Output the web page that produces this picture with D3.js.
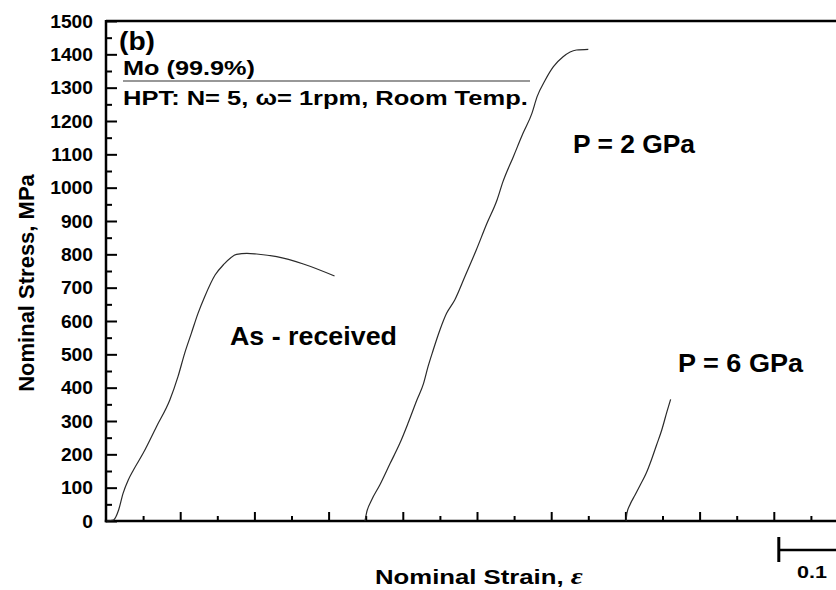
<!DOCTYPE html>
<html>
<head>
<meta charset="utf-8">
<script src="https://cdn.jsdelivr.net/npm/d3@7/dist/d3.min.js"></script>
<style>
  html, body { margin: 0; padding: 0; background: #fff; }
  svg { display: block; }
  text { font-family: "Liberation Sans", Arial, sans-serif; font-weight: bold; fill: #000; }
</style>
</head>
<body>
<svg id="chart" width="836" height="590"></svg>
<script>
// Engineering stress–strain curves of HPT-processed Mo (99.9%); stress in MPa.
// Curves are offset along the strain axis for clarity (scale bar = 0.1 strain).
const asReceivedStrain = [0.001, 0.010, 0.017, 0.023, 0.030, 0.037, 0.050, 0.068, 0.086, 0.097, 0.106, 0.115, 0.124, 0.133, 0.147, 0.158, 0.176, 0.190, 0.203, 0.230, 0.266, 0.308];
const asReceivedStress = [0, 3, 33, 83, 123, 153, 203, 283, 363, 433, 503, 563, 623, 673, 738, 768, 800, 803, 801, 793, 771, 735];

const p2Strain = [0.349, 0.351, 0.358, 0.369, 0.383, 0.396, 0.407, 0.419, 0.428, 0.434, 0.441, 0.450, 0.459, 0.470, 0.484, 0.499, 0.513, 0.527, 0.535, 0.549, 0.562, 0.574, 0.581, 0.592, 0.603, 0.616, 0.634, 0.650];
const p2Stress = [0, 23, 63, 108, 173, 233, 293, 363, 413, 463, 513, 573, 623, 663, 735, 813, 891, 963, 1018, 1093, 1163, 1223, 1273, 1323, 1363, 1393, 1413, 1415];

const p6Strain = [0.701, 0.702, 0.706, 0.713, 0.720, 0.728, 0.735, 0.742, 0.749, 0.756, 0.761];
const p6Stress = [0, 23, 48, 78, 108, 143, 183, 228, 273, 328, 365];

const yTickValues = d3.range(0, 1501, 100);
const yMinorValues = d3.range(50, 1500, 100);
const xMajorValues = d3.range(0.1, 1.01, 0.1);
const xMinorValues = d3.range(0.05, 1.0, 0.1);
const scaleBarLength = 0.1;

const svg = d3.select("#chart");
const plotLeft = 106, plotTop = 21, plotBottom = 521, plotRight = 848;

const x = d3.scaleLinear().domain([0, 1.0]).range([plotLeft, plotRight]);
const y = d3.scaleLinear().domain([0, 1500]).range([plotBottom, plotTop]);

// text placed at (px, py) and stretched horizontally to span `width` pixels
function fitText(txt, px, py, size, width) {
  const t = svg.append("text").style("font-size", size + "px").text(txt);
  const natural = t.node().getComputedTextLength();
  t.attr("transform", `translate(${px},${py}) scale(${width / natural},1)`);
  return t;
}

// frame top line
svg.append("line")
  .attr("x1", plotLeft).attr("x2", 836).attr("y1", plotTop).attr("y2", plotTop)
  .attr("stroke", "#000").attr("stroke-width", 2.5);

// y axis: inward ticks, labels on the left
const yAxis = svg.append("g").attr("transform", `translate(${plotLeft},0)`)
  .call(d3.axisLeft(y).tickValues(yTickValues).tickSize(-11).tickPadding(13).tickFormat(d3.format("d")));
svg.append("g").attr("transform", `translate(${plotLeft},0)`)
  .call(d3.axisLeft(y).tickValues(yMinorValues).tickSize(-6).tickFormat(""));
yAxis.attr("font-family", null).attr("font-size", null);
yAxis.selectAll(".tick text")
  .style("font-size", "18px")
  .attr("x", null).attr("dy", "0.35em")
  .attr("transform", "translate(-13,0) scale(1.07,1)");

// x axis: inward ticks, no tick labels
svg.append("g").attr("transform", `translate(0,${plotBottom})`)
  .call(d3.axisTop(x).tickValues(xMajorValues).tickSize(9).tickFormat(""));
svg.append("g").attr("transform", `translate(0,${plotBottom})`)
  .call(d3.axisTop(x).tickValues(xMinorValues).tickSize(5).tickFormat(""));

svg.selectAll(".domain").remove();
// axis spines drawn explicitly so they meet cleanly at the corner
svg.append("line").attr("x1", plotLeft).attr("x2", plotLeft).attr("y1", plotTop - 1).attr("y2", plotBottom + 1.2)
  .attr("stroke", "#000").attr("stroke-width", 2.5);
svg.append("line").attr("x1", plotLeft - 1.2).attr("x2", 836).attr("y1", plotBottom).attr("y2", plotBottom)
  .attr("stroke", "#000").attr("stroke-width", 2.5);
svg.selectAll(".tick line").attr("stroke", "#000").attr("stroke-width", 2);

// curves
const line = d3.line().x(d => x(d[0])).y(d => y(d[1])).curve(d3.curveMonotoneX);
const series = [
  [asReceivedStrain, asReceivedStress],
  [p2Strain, p2Stress],
  [p6Strain, p6Stress]
];
series.forEach(([sx, sy]) => {
  svg.append("path")
    .datum(sx.map((v, i) => [v, sy[i]]))
    .attr("d", line)
    .attr("fill", "none")
    .attr("stroke", "#2a2a2a")
    .attr("stroke-width", 1.2);
});

// panel annotations
fitText("(b)", 119, 50, 25, 36);
fitText("Mo (99.9%)", 123, 75, 21, 132);
svg.append("line").attr("x1", 123).attr("x2", 530).attr("y1", 81).attr("y2", 81)
  .attr("stroke", "#333").attr("stroke-width", 1.2);
fitText("HPT: N= 5, \u03c9= 1rpm, Room Temp.", 123, 105, 21, 405);

fitText("P = 2 GPa", 573, 153, 26, 122);
fitText("As - received", 230, 345, 26, 167);
fitText("P = 6 GPa", 678, 372, 26, 125);

// axis titles
const xTitle = svg.append("text").style("font-size", "21px");
xTitle.append("tspan").text("Nominal Strain, ");
xTitle.append("tspan")
  .style("font-family", "'Liberation Serif', serif").style("font-style", "italic").style("font-size", "24px")
  .text("\u03b5");
const xNatural = xTitle.node().getComputedTextLength();
xTitle.attr("transform", `translate(375,584) scale(${208 / xNatural},1)`);

svg.append("text")
  .attr("transform", "translate(34,283) rotate(-90)")
  .attr("text-anchor", "middle")
  .style("font-size", "22px")
  .text("Nominal Stress, MPa");

// strain scale bar
const barX = x(0.9) + 5, barY = 550;
svg.append("line").attr("x1", barX).attr("x2", barX).attr("y1", 537).attr("y2", 562)
  .attr("stroke", "#000").attr("stroke-width", 3);
svg.append("line").attr("x1", barX).attr("x2", barX + (x(scaleBarLength) - x(0))).attr("y1", barY).attr("y2", barY)
  .attr("stroke", "#000").attr("stroke-width", 2.5);
fitText("0.1", 797, 578, 17, 30);
</script>
</body>
</html>
